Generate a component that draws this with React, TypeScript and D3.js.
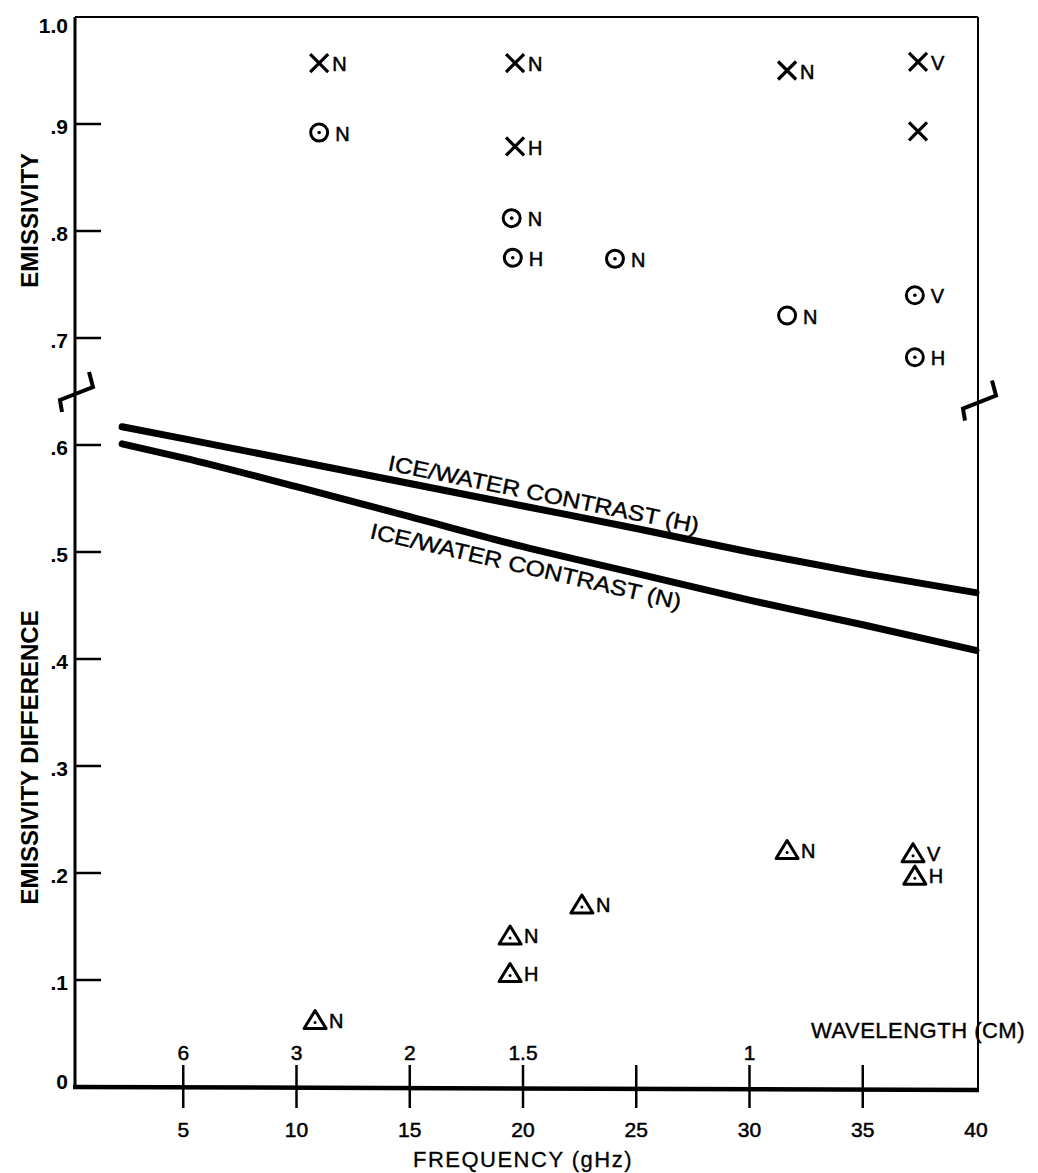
import React from 'react';
import * as d3 from 'd3';

// frequency (gHz) ticks and the wavelength (cm) ticks that sit above them
const freqTicks = [5, 10, 15, 20, 25, 30, 35, 40];
const waveTicks = [
  { f: 5, label: '6' },
  { f: 10, label: '3' },
  { f: 15, label: '2' },
  { f: 20, label: '1.5' },
  { f: 25, label: '' },
  { f: 30, label: '1' },
  { f: 35, label: '' },
];
const yTicks = [0, 0.1, 0.2, 0.3, 0.4, 0.5, 0.6, 0.7, 0.8, 0.9, 1.0];
const yTickLabels = ['0', '.1', '.2', '.3', '.4', '.5', '.6', '.7', '.8', '.9', '1.0'];

// X markers (emissivity)
const crossFreq = [11.0, 19.65, 19.65, 31.66, 37.44, 37.44];
const crossValue = [0.957, 0.957, 0.879, 0.95, 0.958, 0.893];
const crossLabel = ['N', 'N', 'H', 'N', 'V', ''];

// circle markers (emissivity)
const circleFreq = [11.0, 19.5, 19.55, 24.06, 31.66, 37.3, 37.3];
const circleValue = [0.892, 0.812, 0.775, 0.774, 0.721, 0.74, 0.682];
const circleLabel = ['N', 'N', 'H', 'N', 'N', 'V', 'H'];
const circleDot = [true, true, true, true, false, true, true];

// triangle markers (emissivity difference)
const triFreq = [10.82, 19.43, 19.43, 22.6, 31.66, 37.22, 37.3];
const triValue = [0.063, 0.142, 0.107, 0.171, 0.222, 0.219, 0.198];
const triLabel = ['N', 'N', 'H', 'N', 'N', 'V', 'H'];

// ice/water contrast curves
const lineFreq = [2.3, 5, 10, 15, 20, 25, 30, 35, 40];
const contrastH = [0.617, 0.606, 0.585, 0.564, 0.543, 0.522, 0.5, 0.48, 0.462];
const contrastN = [0.601, 0.588, 0.561, 0.533, 0.505, 0.48, 0.455, 0.432, 0.408];

const W = 1038;
const H = 1173;
const FONT = "'Liberation Sans', Arial, sans-serif";

export default function App() {
  const x = d3.scaleLinear().domain([0, 40]).range([70, 976]);
  const y = d3.scaleLinear().domain([0, 1]).range([1087, 17]);
  const left = 75;
  const right = x(40) + 2;
  const top = y(1);
  const bottom = y(0);

  const line = d3
    .line<number>()
    .x((_, i) => x(lineFreq[i]))
    .y((d) => y(d))
    .curve(d3.curveMonotoneX);

  const hAt = d3.scaleLinear().domain(lineFreq).range(contrastH);
  const nAt = d3.scaleLinear().domain(lineFreq).range(contrastN);

  // rotated label along a curve
  const curveLabel = (text: string, at: (f: number) => number, f0: number, f1: number, off0: number, off1: number) => {
    const x0 = x(f0), y0 = y(at(f0)) + off0;
    const x1 = x(f1), y1 = y(at(f1)) + off1;
    const ang = (Math.atan2(y1 - y0, x1 - x0) * 180) / Math.PI;
    const len = Math.hypot(x1 - x0, y1 - y0);
    return (
      <text
        x={x0}
        y={y0}
        transform={`rotate(${ang},${x0},${y0})`}
        fontSize={22}
        textLength={len}
        lengthAdjust="spacingAndGlyphs"
        fill="#000"
        stroke="#000"
        strokeWidth={0.4}
      >
        {text}
      </text>
    );
  };

  const breakMark = (cx: number, cy: number) =>
    `M${cx - 13},${cy + 13} L${cx - 15},${cy + 1} L${cx + 18},${cy - 12} L${cx + 14},${cy - 27}`;

  const markLabel = (px: number, py: number, t: string, key: string) => (
    <text key={key} x={px} y={py} dy="0.36em" fontSize={20} fill="#000" stroke="#000" strokeWidth={0.5}>
      {t}
    </text>
  );

  return (
    <svg
      width={W}
      height={H}
      viewBox={`0 0 ${W} ${H}`}
      style={{ position: 'absolute', left: 0, top: 0, background: '#fff' }}
      fontFamily={FONT}
    >
      <rect width={W} height={H} fill="#fff" />

      {/* frame */}
      <line x1={left} x2={right} y1={top} y2={top} stroke="#000" strokeWidth={2} />
      <line x1={left} x2={left} y1={top} y2={bottom} stroke="#000" strokeWidth={3} />
      <line x1={right} x2={right} y1={top} y2={bottom + 3} stroke="#000" strokeWidth={2} />
      <line x1={left - 2} x2={right + 1} y1={bottom} y2={bottom + 3} stroke="#000" strokeWidth={4.5} />

      {/* axis breaks */}
      <path d={breakMark(left, y(0.643))} fill="none" stroke="#000" strokeWidth={4} strokeLinejoin="miter" />
      <path d={breakMark(right, y(0.635))} fill="none" stroke="#000" strokeWidth={4} strokeLinejoin="miter" />

      {/* y ticks */}
      {yTicks.map((t, i) => (
        <g key={`yt${i}`}>
          {t > 0 && t < 1 && <line x1={left} x2={left + 26} y1={y(t)} y2={y(t)} stroke="#000" strokeWidth={2.5} />}
          <text
            x={68}
            y={y(t) + (t === 1 ? 8 : t === 0 ? -6 : 2)}
            dy="0.36em"
            textAnchor="end"
            fontSize={21}
            fontWeight="bold"
            fill="#000"
          >
            {yTickLabels[i]}
          </text>
        </g>
      ))}

      {/* y axis titles */}
      <text
        transform={`translate(38,${y(0.81)}) rotate(-90)`}
        textAnchor="middle"
        fontSize={24}
        fontWeight="bold"
        fill="#000"
      >
        EMISSIVITY
      </text>
      <text
        transform={`translate(38,${y(0.308)}) rotate(-90)`}
        textAnchor="middle"
        fontSize={24}
        fontWeight="bold"
        fill="#000"
      >
        EMISSIVITY DIFFERENCE
      </text>

      {/* x ticks: frequency below, wavelength above */}
      {freqTicks.map((f) => (
        <text key={`ft${f}`} x={x(f)} y={bottom + 50} textAnchor="middle" fontSize={21} fill="#000" stroke="#000" strokeWidth={0.5}>
          {f}
        </text>
      ))}
      {waveTicks.map((w) => (
        <g key={`wt${w.f}`}>
          <line x1={x(w.f)} x2={x(w.f)} y1={bottom - 22} y2={bottom + 21} stroke="#000" strokeWidth={2.5} />
          <text x={x(w.f)} y={bottom - 27} textAnchor="middle" fontSize={21} fill="#000" stroke="#000" strokeWidth={0.5}>
            {w.label}
          </text>
        </g>
      ))}
      <text x={918} y={bottom - 49} textAnchor="middle" fontSize={22} fill="#000" stroke="#000" strokeWidth={0.4} letterSpacing={0.5}>
        WAVELENGTH (CM)
      </text>
      <text x={x(20)} y={bottom + 80} textAnchor="middle" fontSize={22} fill="#000" stroke="#000" strokeWidth={0.3} letterSpacing={1.5}>
        FREQUENCY (gHz)
      </text>

      {/* contrast curves */}
      <path d={line(contrastH) || ''} fill="none" stroke="#000" strokeWidth={7} strokeLinecap="round" />
      <path d={line(contrastN) || ''} fill="none" stroke="#000" strokeWidth={7} strokeLinecap="round" />
      {curveLabel('ICE/WATER CONTRAST (H)', (f) => hAt(f), 14.0, 27.7, -9, -8)}
      {curveLabel('ICE/WATER CONTRAST (N)', (f) => nAt(f), 13.2, 26.9, 32, 26)}

      {/* crosses */}
      {crossFreq.map((f, i) => {
        const cx = x(f), cy = y(crossValue[i]);
        return (
          <g key={`c${i}`}>
            <path
              d={`M${cx - 9},${cy - 9}L${cx + 9},${cy + 9}M${cx - 9},${cy + 9}L${cx + 9},${cy - 9}`}
              stroke="#000"
              strokeWidth={3.2}
            />
            {crossLabel[i] && markLabel(cx + 13, cy + 1, crossLabel[i], `cl${i}`)}
          </g>
        );
      })}

      {/* circles */}
      {circleFreq.map((f, i) => {
        const cx = x(f), cy = y(circleValue[i]);
        return (
          <g key={`o${i}`}>
            <circle cx={cx} cy={cy} r={8.5} fill="none" stroke="#000" strokeWidth={3} />
            {circleDot[i] && <circle cx={cx} cy={cy} r={1.8} fill="#000" />}
            {markLabel(cx + 16, cy + 1, circleLabel[i], `ol${i}`)}
          </g>
        );
      })}

      {/* triangles */}
      {triFreq.map((f, i) => {
        const cx = x(f), cy = y(triValue[i]);
        return (
          <g key={`t${i}`}>
            <path
              d={`M${cx},${cy - 9}L${cx + 11},${cy + 9}L${cx - 11},${cy + 9}Z`}
              fill="none"
              stroke="#000"
              strokeWidth={3}
              strokeLinejoin="round"
            />
            <circle cx={cx} cy={cy + 3} r={1.5} fill="#000" />
            {markLabel(cx + 14, cy + 1, triLabel[i], `tl${i}`)}
          </g>
        );
      })}
    </svg>
  );
}
